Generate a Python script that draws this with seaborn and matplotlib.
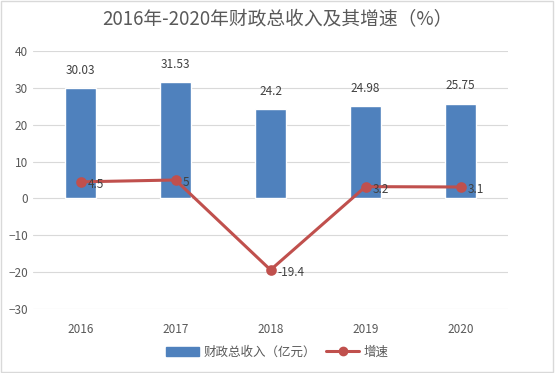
import numpy as np
import pandas as pd
import matplotlib
matplotlib.use("Agg")
import matplotlib.pyplot as plt
import seaborn as sns
from matplotlib.patches import Rectangle
from matplotlib.lines import Line2D

# data
years = ['2016', '2017', '2018', '2019', '2020']
revenue = [30.03, 31.53, 24.2, 24.98, 25.75]
growth = [4.5, 5, -19.4, 3.2, 3.1]
revenue_labels = ['30.03', '31.53', '24.2', '24.98', '25.75']
growth_labels = ['4.5', '5', '-19.4', '3.2', '3.1']

df = pd.DataFrame({'year': years, 'revenue': revenue, 'growth': growth})

sns.set_style('white')
plt.rcParams['font.family'] = ['Noto Sans CJK SC', 'DejaVu Sans']

bar_color = '#4F81BD'
line_color = '#C0504D'
text_color = '#595959'

fig = plt.figure(figsize=(5.55, 3.73), dpi=100)
ax = fig.add_axes([0.0595, 0.1716, 0.8559, 0.6917])

sns.barplot(data=df, x='year', y='revenue', color=bar_color, width=0.32,
            saturation=1, ax=ax, zorder=2)
sns.pointplot(data=df, x='year', y='growth', color=line_color, markers='o',
              markersize=6, linewidth=2.2, ax=ax, zorder=3)

ax.set_ylim(-30, 40)
ax.set_xlim(-0.5, 4.5)
ax.set_yticks(np.arange(-30, 41, 10))
ax.yaxis.grid(True, color='#D9D9D9', linewidth=0.8, zorder=0)
ax.set_axisbelow(True)
for s in ax.spines.values():
    s.set_visible(False)
ax.set_xlabel('')
ax.set_ylabel('')
ax.tick_params(axis='both', length=0, labelsize=8.5, colors=text_color)
ax.tick_params(axis='x', pad=10)

# value labels
for i, (v, t) in enumerate(zip(revenue, revenue_labels)):
    ax.annotate(t, (i, v), xytext=(0, 8), textcoords='offset points',
                ha='center', va='bottom', fontsize=8.5, color='#404040')
for i, (v, t) in enumerate(zip(growth, growth_labels)):
    ax.annotate(t, (i, v), xytext=(5, -2), textcoords='offset points',
                ha='left', va='center', fontsize=8.5, color='#404040')

fig.suptitle('2016年-2020年财政总收入及其增速（%）', x=0.5, y=0.975,
             fontsize=13.5, color='#595959')

handles = [Rectangle((0, 0), 1, 1, color=bar_color),
           Line2D([], [], color=line_color, linewidth=2.2, marker='o', markersize=6)]
fig.legend(handles, ['财政总收入（亿元）', '增速'], loc='center',
           bbox_to_anchor=(0.5, 0.056), ncol=2, frameon=False, fontsize=9,
           handlelength=2.6, columnspacing=0.8, handletextpad=0.4,
           labelcolor=text_color)

fig.patches.append(Rectangle((0.002, 0.003), 0.995, 0.993, transform=fig.transFigure,
                             fill=False, edgecolor='#D9D9D9', linewidth=1))

fig.savefig('out.png', dpi=100)
